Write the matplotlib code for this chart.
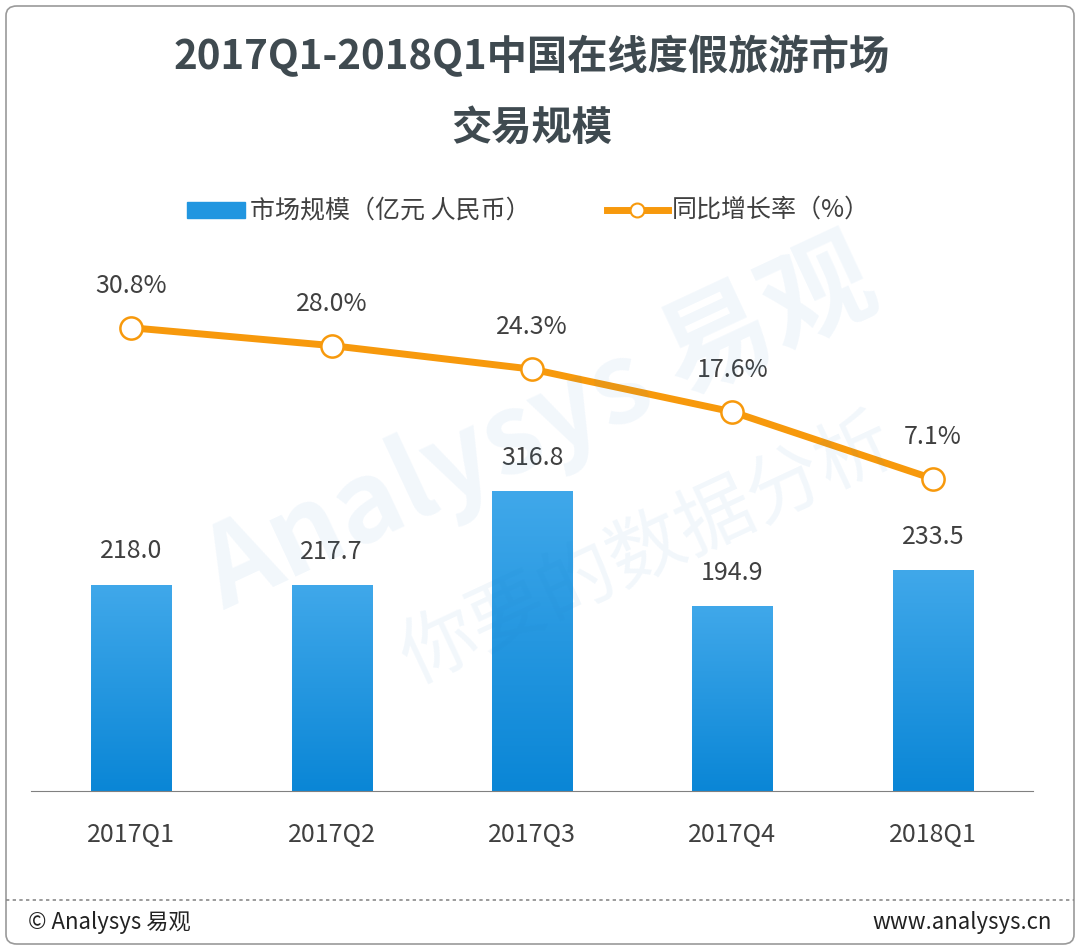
import matplotlib
matplotlib.use("Agg")
import matplotlib.pyplot as plt
from matplotlib.patches import FancyBboxPatch, Rectangle
from matplotlib.lines import Line2D
from matplotlib.colors import LinearSegmentedColormap
import numpy as np

plt.rcParams['font.family'] = ['Noto Sans CJK SC', 'DejaVu Sans']

categories = ['2017Q1', '2017Q2', '2017Q3', '2017Q4', '2018Q1']
market_size = [218.0, 217.7, 316.8, 194.9, 233.5]
growth = [30.8, 28.0, 24.3, 17.6, 7.1]

W, H = 1080, 950
fig = plt.figure(figsize=(W/100, H/100), dpi=100)
fig.patch.set_facecolor('white')

fig.patches.append(FancyBboxPatch((6/W, 6/H), 1068/W, 938/H, boxstyle="round,pad=0,rounding_size=0.01",
                                  transform=fig.transFigure, fill=False, ec='#9a9a9a', lw=1.2))
fig.lines.append(Line2D([6/W, 1074/W], [1-900/H, 1-900/H], transform=fig.transFigure,
                        color='#8a8a8a', lw=1.2, ls=(0, (2, 2))))

x0, x1 = 31/W, 1033/W
ytop, ybot = 250, 791
ax = fig.add_axes([x0, 1-ybot/H, x1-x0, (ybot-ytop)/H])
x = np.arange(len(categories))
ax.set_ylim(0, 573)
grad = np.linspace(0, 1, 256).reshape(-1, 1)
cmap = LinearSegmentedColormap.from_list('b', ['#0a86d6', '#40a8ea'])
bars = ax.bar(x, market_size, width=0.4, color='none')
for b, v in zip(bars, market_size):
    bx, bw = b.get_x(), b.get_width()
    ax.imshow(grad, extent=[bx, bx+bw, 0, v], aspect='auto', cmap=cmap, zorder=2, origin='lower')
    ax.text(bx+bw/2, v+22, f'{v:.1f}', ha='center', va='bottom', fontsize=18, color='#404040')
ax.set_aspect('auto')
ax.set_xlim(-0.5, len(categories)-0.5)
for s in ['top', 'right', 'left']:
    ax.spines[s].set_visible(False)
ax.spines['bottom'].set_color('#808080')
ax.set_yticks([])
ax.set_xticks(x)
ax.set_xticklabels(categories, fontsize=18, color='#404040')
ax.tick_params(axis='x', length=0, pad=22)

ax2 = ax.twinx()
ax2.set_ylim(-41.9, 43.0)
ax2.axis('off')
ax2.plot(x, growth, color='#f7990c', lw=5, marker='o', ms=16, mfc='white', mec='#f7990c', mew=1.8, zorder=3)
for xi, g in zip(x, growth):
    ax2.text(xi, g+4.5, f'{g:.1f}%', ha='center', va='bottom', fontsize=18, color='#404040')

fig.text(0.5, 0.55, 'Analysys 易观', fontsize=80, color='#1a7fc8', alpha=0.06, rotation=25,
         ha='center', va='center', fontweight='bold')
fig.text(0.6, 0.42, '你要的数据分析', fontsize=55, color='#1a7fc8', alpha=0.06, rotation=25,
         ha='center', va='center')

fig.text(532/W, 1-57/H, '2017Q1-2018Q1中国在线度假旅游市场', fontsize=29, fontweight='bold',
         color='#3f4a50', ha='center', va='center')
fig.text(532/W, 1-128/H, '交易规模', fontsize=29, fontweight='bold', color='#3f4a50', ha='center', va='center')

fig.patches.append(Rectangle((187/W, 1-218/H), 58/W, 16/H, transform=fig.transFigure, color='#2196e0'))
fig.text(250/W, 1-210/H, '市场规模（亿元 人民币）', fontsize=18, color='#404040', va='center')
fig.lines.append(Line2D([607/W, 668/W], [1-210/H]*2, transform=fig.transFigure, color='#f7990c', lw=5))
fig.lines.append(Line2D([637/W], [1-210/H], transform=fig.transFigure, marker='o', ms=10,
                        mfc='white', mec='#f7990c', mew=1.5))
fig.text(672/W, 1-210/H, '同比增长率（%）', fontsize=18, color='#404040', va='center')

fig.text(28/W, 1-922/H, '© Analysys 易观', fontsize=16, color='#222222', va='center')
fig.text(1052/W, 1-922/H, 'www.analysys.cn', fontsize=16, color='#222222', va='center', ha='right')

fig.savefig('out.png', dpi=100)
